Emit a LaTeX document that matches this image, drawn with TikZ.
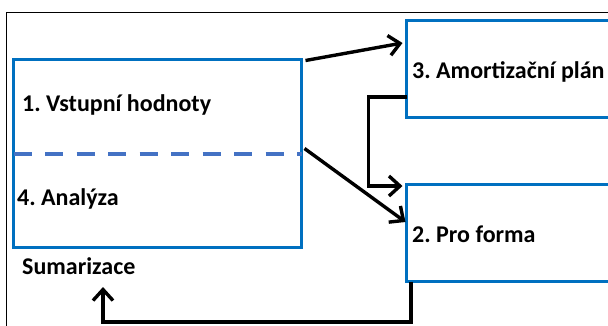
\documentclass[tikz,border=0pt]{standalone}
\usepackage{fontspec}
\setmainfont{Carlito}
\usetikzlibrary{positioning,arrows.meta}
\definecolor{boxblue}{HTML}{0070C0}
\definecolor{dashblue}{HTML}{4472C4}
\frenchspacing
\begin{document}
\begin{tikzpicture}[x=1pt, y=-1pt,
    box/.style={draw=boxblue, line width=3.5pt, anchor=north west, inner sep=0pt, outer sep=0pt},
    lbl/.style={font=\bfseries\fontsize{24}{28}\selectfont, anchor=base west, inner sep=0pt},
    flow/.style={-{Straight Barb[length=11pt, width=20pt, line width=3.4pt]}, line width=3.4pt}]

    \useasboundingbox (0,0) rectangle (608,325);
    \clip (0,0) rectangle (608,325);

    % frame
    \draw[line width=1.6pt] (6.5,12.5) rectangle (700,400);

    % boxes
    \node[box, minimum width=288pt, minimum height=188pt] (inputs) at (13.5,59.5) {};
    \node[box, minimum width=240pt, minimum height=97pt] (amort) at (406.5,20.5) {};
    \node[box, minimum width=240pt, minimum height=97pt] (proforma) at (406.5,184.5) {};

    \draw[dashblue, line width=4pt, dash pattern=on 18pt off 13.5pt] (inputs.west |- 0,154) -- (inputs.east |- 0,154);

    % texts
    \node[lbl] (inputstext) at (22,111) {1. Vstupní hodnoty};
    \node[lbl] (analysis) at (17,205) {4. Analýza};
    \node[lbl] (sumar) at (22,274) {Sumarizace};
    \node[lbl] (amorttext) at (412,78) {3. Amortizační plán};
    \node[lbl] (proformatext) at (412,242) {2. Pro forma};

    % arrows
    \draw[flow] ([shift={(4,1)}]inputs.north east) -- ([shift={(-4,-26)}]amort.west);
    \draw[flow] ([shift={(3,-5)}]inputs.east) -- ([shift={(-1,-11)}]proforma.west);
    \draw[flow] ([shift={(0,28)}]amort.west) -- ++(-38,0) |- ([shift={(-4,1.5)}]proforma.north west);

    \coordinate (back) at (103,322);
    \draw[flow] ([shift={(4.5,0)}]proforma.south west) |- (back) -- ++(0,-35);

\end{tikzpicture}
\end{document}
